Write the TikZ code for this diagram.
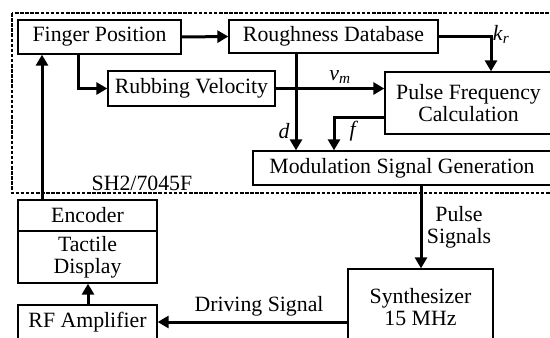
\documentclass[tikz,border=0pt]{standalone}
\usepackage{fontspec}
\setmainfont{Liberation Serif}
\usetikzlibrary{arrows.meta}
\tikzset{
  box/.style={draw, line width=1.3pt, inner sep=0pt, align=center, font=\fontsize{21.8}{22}\selectfont},
  arr/.style={line width=3pt, -{Triangle[length=11pt,width=12pt]}},
  lbl/.style={inner sep=0pt, align=center, font=\fontsize{21.8}{22}\selectfont},
  frame/.style={line width=1.8pt, dash pattern=on 3.5pt off 1.6pt}
}
\begin{document}
\begin{tikzpicture}[x=1pt,y=-1pt]
\useasboundingbox (0,0) rectangle (550,338);
\clip (0,0) rectangle (550,338);
\draw[frame] (12,13) rectangle (562,193);
\node[box, minimum width=163pt, minimum height=34pt] (finger) at (99.5,37) {Finger Position};
\node[box, minimum width=209pt, minimum height=33pt] (rough) at (333.5,36.5) {Roughness Database};
\node[box, minimum width=167pt, minimum height=35pt] (rub) at (191.5,88.5) {Rubbing Velocity};
\node[box, minimum width=167pt, minimum height=62pt] (pulse) at (468.5,103) {Pulse Frequency\\Calculation};
\node[box, minimum width=298pt, minimum height=34pt] (mod) at (402,168) {Modulation Signal Generation};
\node[box, minimum width=139pt, minimum height=31pt] (enc) at (87.5,215.5) {Encoder};
\node[box, minimum width=139pt, minimum height=52pt] (tac) at (87.5,257) {Tactile\\Display};
\node[box, minimum width=139pt, minimum height=35pt] (rf) at (87.5,322.5) {RF Amplifier};
\node[box, minimum width=145pt, minimum height=76pt] (syn) at (420.5,307) {Synthesizer\\15 MHz};
\node[lbl] (sh) at (142,183) {SH2/7045F};
% connectors
\draw[arr] (finger.east) -- (rough.west);
\draw[arr] (finger.south -| 78,0) |- (rub.west);
\draw[arr] (enc.north -| 42,0) -- (finger.south -| 42,0);
\draw[arr] (rough.south -| 296,0) -- (mod.north -| 296,0);
\draw[arr] (rough.east) -| (pulse.north -| 491,0);
\draw[arr] (rub.east) -- (pulse.west |- rub.east);
\draw[arr] (pulse.west |- 0,117) -| (mod.north -| 334,0);
\draw[arr] (mod.south -| 421,0) -- (syn.north -| 421,0);
\draw[arr] (syn.west |- 0,322) -- (rf.east |- 0,322);
\draw[arr] (rf.north -| 88,0) -- (tac.south -| 88,0);
% labels
\node[lbl] (kr) at (501,34) {\textit{k}\textsubscript{\textit{r}}};
\node[lbl] (vm) at (340,77) {\textit{v}\textsubscript{\textit{m}}};
\node[lbl] (d) at (284,131) {\textit{d}};
\node[lbl] (f) at (354,131) {\textit{f}};
\node[lbl] (ps) at (459,227) {Pulse\\Signals};
\node[lbl] (ds) at (259,306) {Driving Signal};
\end{tikzpicture}
\end{document}
